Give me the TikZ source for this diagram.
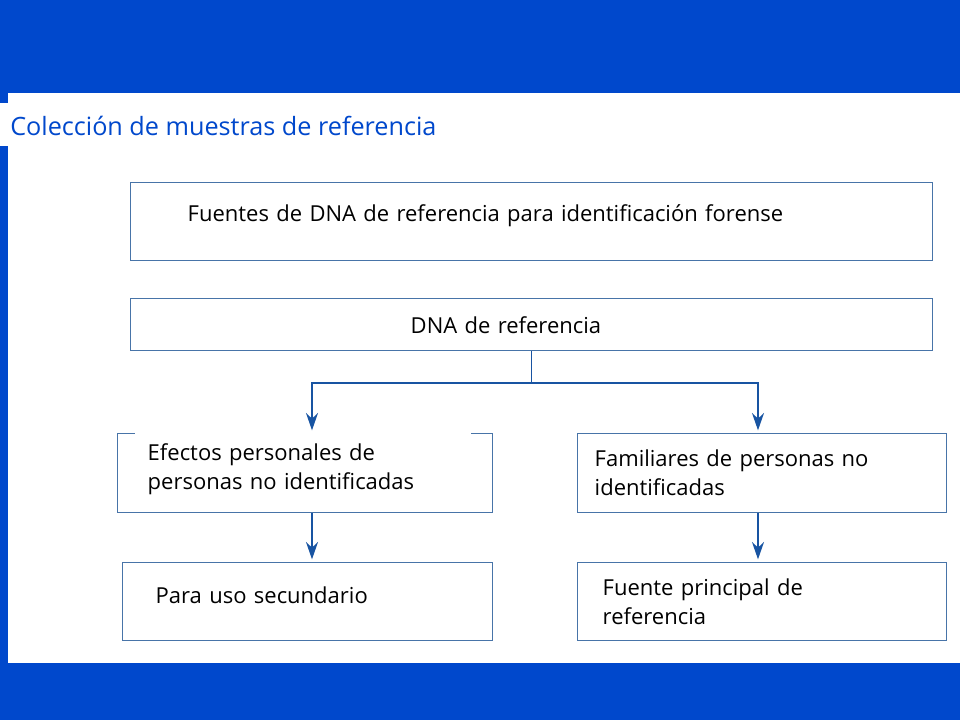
\documentclass[tikz,border=0pt]{standalone}
\usepackage{fontspec}
\setmainfont{Open Sans}
\usetikzlibrary{arrows.meta}
\definecolor{slideblue}{RGB}{0,72,204}
\definecolor{boxline}{RGB}{72,116,168}
\definecolor{arrowblue}{RGB}{24,84,162}
\def\pxu{0.75pt}
\begin{document}
\begin{tikzpicture}[x=0.75pt,y=-0.75pt,
    box/.style={draw=boxline,line width=1.1pt,anchor=north west,align=left,inner ysep=0pt,
        font=\fontsize{16.5}{21.75}\selectfont},
    link/.style={draw=arrowblue,line width=1.1pt},
    flow/.style={link,-{Stealth[length=13pt,width=9pt]},shorten >=2pt}]
    \useasboundingbox (0,0) rectangle (960,720);
    \fill[slideblue] (0,0) rectangle (960,720);
    \fill[white] (8,93) rectangle (960,663);
    \fill[white] (0,103) rectangle (440,146);
    \node[anchor=west,inner sep=0pt,text=slideblue,font=\fontsize{18.9}{23}\selectfont] (title) at (10,126)
        {Colección de muestras de referencia};
    % boxes
    \node[box,minimum width=802*\pxu,minimum height=78*\pxu,inner xsep=57*\pxu,text width=688*\pxu,text depth=13pt] (fuentes) at (130,182)
        {Fuentes de DNA de referencia para identificación forense};
    \node[box,minimum width=802*\pxu,minimum height=52*\pxu,inner xsep=280*\pxu,text width=242*\pxu] (dna) at (130,298)
        {DNA de referencia};
    \node[box,minimum width=375*\pxu,minimum height=79*\pxu,inner xsep=30*\pxu,text width=315*\pxu,text depth=32pt] (efectos) at (117,433)
        {Efectos personales de\\personas no identificadas};
    \node[box,minimum width=369*\pxu,minimum height=79*\pxu,inner xsep=17*\pxu,text width=335*\pxu] (familiares) at (577,433)
        {Familiares de personas no\\identificadas};
    \node[box,minimum width=370*\pxu,minimum height=78*\pxu,inner xsep=33*\pxu,text width=304*\pxu,text depth=10pt] (uso) at (122,562)
        {Para uso secundario};
    \node[box,minimum width=369*\pxu,minimum height=78*\pxu,inner xsep=25*\pxu,text width=319*\pxu] (principal) at (577,562)
        {Fuente principal de\\referencia};
    \fill[white] (135,430) rectangle (471,436);
    % connectors
    \coordinate (lx) at (312,383);
    \coordinate (rx) at (758,383);
    \coordinate (split) at (dna.south |- lx);
    \draw[link] (dna.south) -- (split);
    \draw[flow] (split) -| (efectos.north -| lx);
    \draw[flow] (split) -| (familiares.north -| rx);
    \draw[flow] (efectos.south -| lx) -- (uso.north -| lx);
    \draw[flow] (familiares.south -| rx) -- (principal.north -| rx);
\end{tikzpicture}
\end{document}
